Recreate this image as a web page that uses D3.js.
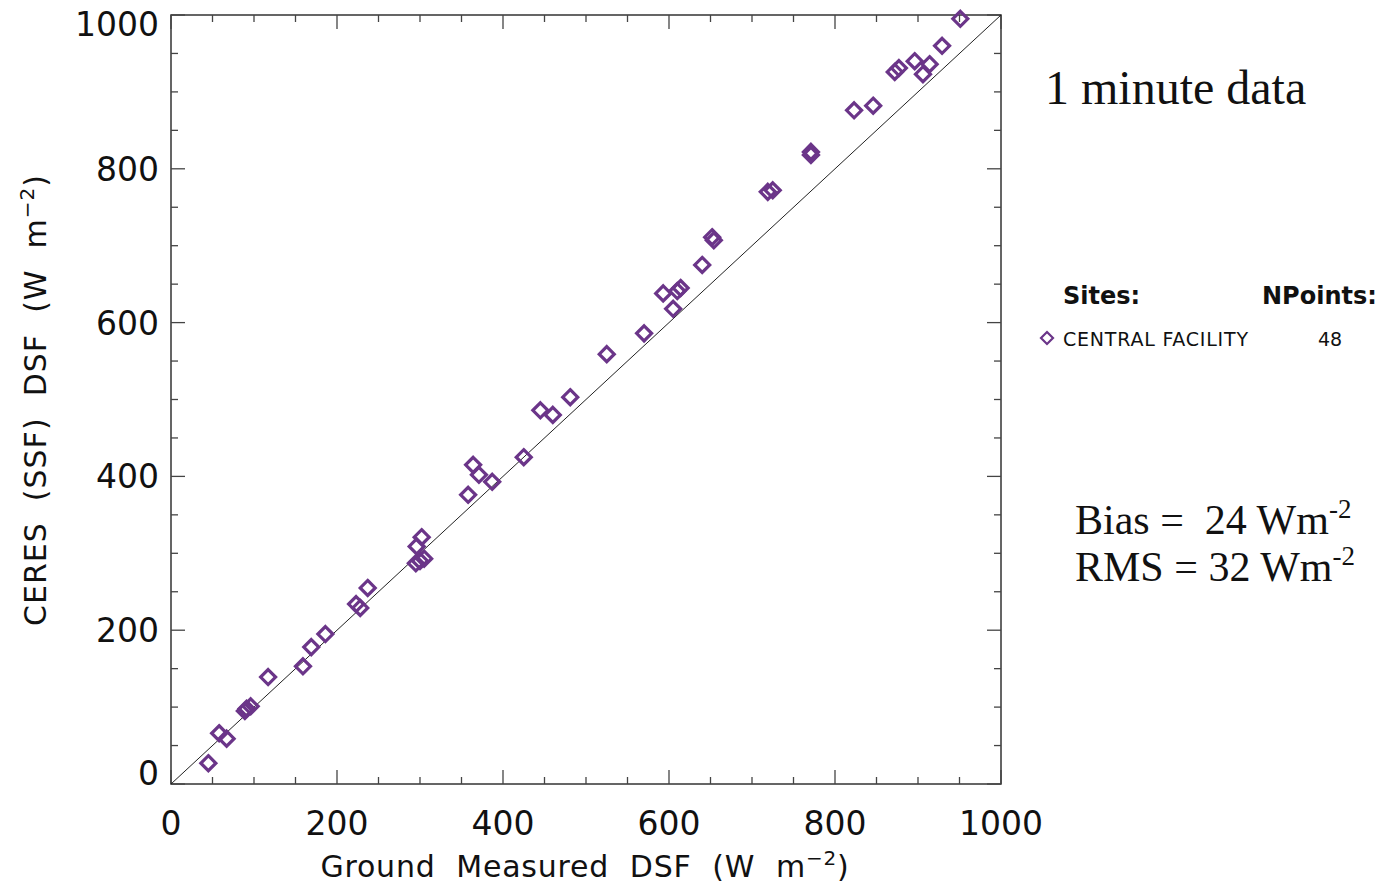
<!DOCTYPE html>
<html><head><meta charset="utf-8">
<script src="https://cdnjs.cloudflare.com/ajax/libs/d3/7.8.5/d3.min.js"></script>
<style>body{margin:0;background:#fff}svg{display:block}text{white-space:pre}</style>
</head><body>
<svg id="c" width="1384" height="886"></svg>
<script>
// Ground measured DSF (x) and CERES SSF DSF (y), W m-2
const groundDSF = [45,58,67,89,91,96,117,159,169,186,223,228,237,296,302,295,300,305,358,364,371,387,425,445,460,481,525,570,593,605,610,614,640,652,654,719,725,771,771,823,846,872,877,896,906,914,929,951];
const ceresDSF  = [27,66,59,95,98,101,139,153,178,195,234,229,255,309,321,287,290,293,376,415,402,393,425,486,480,503,559,586,638,618,641,645,675,711,707,770,772,822,818,876,882,926,931,940,923,936,960,995];
const tickValues = [0,200,400,600,800,1000];
const minorTicks = d3.range(0,1001,50);
const siteName = "CENTRAL FACILITY";
const nPoints = 48;

const svg = d3.select("#c");
const purple = "#6b3589";
const x = d3.scaleLinear().domain([0,1000]).range([171,1001]);
const y = d3.scaleLinear().domain([0,1000]).range([784,15]);

// frame
svg.append("rect").attr("x",171).attr("y",15).attr("width",830).attr("height",769)
  .attr("fill","none").attr("stroke","#333").attr("stroke-width",1.5);

const g = svg.append("g").attr("stroke","#444").attr("stroke-width",1.3);
minorTicks.forEach(v=>{
  const L = v%200===0 ? 14 : 7;
  g.append("line").attr("x1",x(v)).attr("x2",x(v)).attr("y1",784).attr("y2",784-L);
  g.append("line").attr("x1",x(v)).attr("x2",x(v)).attr("y1",15).attr("y2",15+L);
  g.append("line").attr("y1",y(v)).attr("y2",y(v)).attr("x1",171).attr("x2",171+L);
  g.append("line").attr("y1",y(v)).attr("y2",y(v)).attr("x1",1001).attr("x2",1001-L);
});

const lab = {"font-family":"'DejaVu Sans', 'Liberation Sans', sans-serif","font-size":"33px","fill":"#111"};
tickValues.forEach(v=>{
  const t = svg.append("text").attr("x",x(v)).attr("y",835).attr("text-anchor","middle").text(v);
  Object.entries(lab).forEach(([k,val])=>t.attr(k,val));
  let dy = 12; if(v===0) dy = 1; if(v===1000) dy = 21;
  const t2 = svg.append("text").attr("x",159).attr("y",y(v)+dy).attr("text-anchor","end").text(v);
  Object.entries(lab).forEach(([k,val])=>t2.attr(k,val));
});

// axis titles
const xt = svg.append("text").attr("x",585).attr("y",877).attr("text-anchor","middle")
  .attr("font-family","'DejaVu Sans', sans-serif").attr("font-size","30px").attr("fill","#111")
  .attr("letter-spacing","0.8px");
xt.append("tspan").text("Ground  Measured  DSF  (W  m");
xt.append("tspan").attr("dy",-12).attr("font-size","20px").text("−2");
xt.append("tspan").attr("dy",12).text(")");

const yt = svg.append("text").attr("transform","translate(46,400) rotate(-90)").attr("text-anchor","middle")
  .attr("font-family","'DejaVu Sans', sans-serif").attr("font-size","30px").attr("fill","#111")
  .attr("letter-spacing","1px");
yt.append("tspan").text("CERES  (SSF)  DSF  (W  m");
yt.append("tspan").attr("dy",-12).attr("font-size","20px").text("−2");
yt.append("tspan").attr("dy",12).text(")");

// 1:1 line
svg.append("line").attr("x1",x(0)).attr("y1",y(0)).attr("x2",x(1000)).attr("y2",y(1000))
  .attr("stroke","#222").attr("stroke-width",1);

// points
const diamond = (cx,cy,r)=>`M${cx},${cy-r}L${cx+r},${cy}L${cx},${cy+r}L${cx-r},${cy}Z`;
svg.append("g").selectAll("path").data(groundDSF.map((d,i)=>[d,ceresDSF[i]])).join("path")
  .attr("d",d=>diamond(x(d[0]),y(d[1]),7.5))
  .attr("fill","none").attr("stroke",purple).attr("stroke-width",3.2);

// annotations
svg.append("text").attr("x",1045).attr("y",104).attr("font-family","'Liberation Serif', serif")
  .attr("font-size","48px").attr("fill","#111").text("1 minute data");

svg.append("text").attr("x",1063).attr("y",304).attr("font-family","'DejaVu Sans', sans-serif")
  .attr("font-size","24px").attr("font-weight","bold").attr("fill","#111").text("Sites:");
svg.append("text").attr("x",1262).attr("y",304).attr("font-family","'DejaVu Sans', sans-serif")
  .attr("font-size","24px").attr("font-weight","bold").attr("fill","#111").text("NPoints:");
svg.append("path").attr("d",diamond(1047,338,6)).attr("fill","none").attr("stroke",purple).attr("stroke-width",2.2);
svg.append("text").attr("x",1063).attr("y",346).attr("font-family","'DejaVu Sans', sans-serif")
  .attr("font-size","19px").attr("fill","#111").attr("textLength",185).text(siteName);
svg.append("text").attr("x",1318).attr("y",346).attr("font-family","'DejaVu Sans', sans-serif")
  .attr("font-size","19px").attr("fill","#111").text(nPoints);

const st = (yy,label)=>{
  const t = svg.append("text").attr("x",1075).attr("y",yy).attr("font-family","'Liberation Serif', serif")
    .attr("font-size","42px").attr("fill","#111");
  t.append("tspan").text(label);
  t.append("tspan").attr("dy",-16).attr("font-size","27px").text("-2");
};
st(534,"Bias =  24 Wm");
st(581,"RMS = 32 Wm");
</script>
</body></html>
